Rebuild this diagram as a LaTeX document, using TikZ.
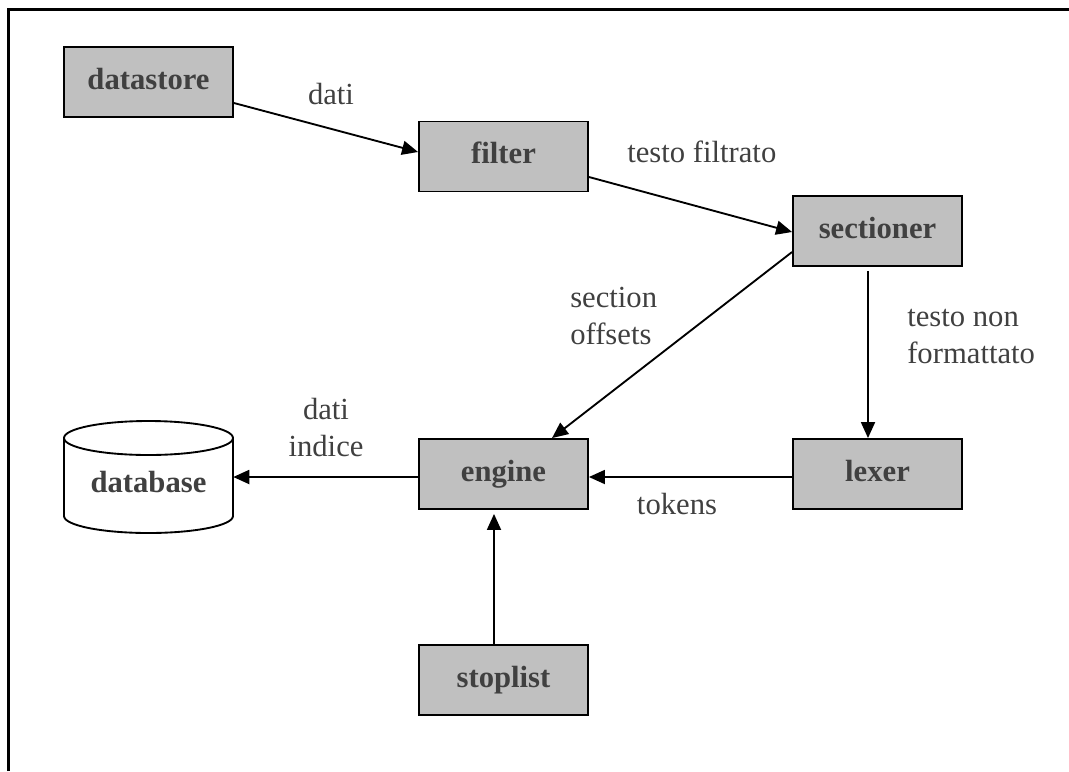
\documentclass[tikz,border=0pt]{standalone}
\usepackage{fontspec}
\setmainfont{Liberation Serif}
\usetikzlibrary{arrows.meta,calc}
\definecolor{boxgray}{HTML}{C0C0C0}
\definecolor{inkgray}{HTML}{404040}

\begin{document}
\begin{tikzpicture}[x=0.75pt,y=-0.75pt,
  every node/.style={font=\fontsize{23}{27.75}\selectfont, text=inkgray},
  stage/.style={draw=black, line width=1.4pt, fill=boxgray,
    font=\fontsize{23}{27.75}\selectfont\bfseries,
    minimum width=126.75pt, minimum height=52.5pt, inner sep=0pt,
    text height=16.8pt, text depth=6.2pt},
  flow/.style={draw=black, line width=1.4pt, -{Triangle[length=12pt,width=10.5pt]}},
  note/.style={inner sep=0pt}
]
\useasboundingbox (0,0) rectangle (1069,771);

% page frame (top and left rules)
\draw[line width=2.25pt] (8,771) -- (8,9) -- (1069,9);

% database cylinder
\draw[line width=1.4pt, fill=white]
  (64,438) -- (64,516) arc[start angle=180, end angle=0, x radius=84.5, y radius=17]
  -- (233,438) arc[start angle=0, end angle=-180, x radius=84.5, y radius=17] -- cycle;
\draw[line width=1.4pt] (64,438) arc[start angle=180, end angle=0, x radius=84.5, y radius=17];
\node[note, font=\fontsize{23}{27.75}\selectfont\bfseries, minimum width=126.75pt] (database) at (148.5,482) {database};

% processing stages
\node[stage] (datastore) at (148.5,82) {datastore};
\node[stage] (filter) at (503.5,156.5) {filter};
\node[stage] (sectioner) at (877.5,231) {sectioner};
\node[stage] (lexer) at (877.5,474) {lexer};
\node[stage] (engine) at (503.5,474) {engine};
\node[stage] (stoplist) at (503.5,680) {stoplist};

% data flow
\draw[flow] ($(datastore.east)+(0,21)$) -- ($(filter.west)+(0,-4.5)$);
\draw[flow] ($(filter.east)+(0,20.5)$) -- ($(sectioner.west)+(0,1)$);
\draw[flow] ($(sectioner.west)+(0,21)$) -- ($(engine.north)+(48.5,0)$);
\draw[flow] ($(sectioner.south)+(-9.5,4)$) -- ($(lexer.north)+(-9.5,0)$);
\draw[flow] ($(lexer.west)+(0,3)$) -- ($(engine.east)+(0,3)$);
\draw[flow] ($(engine.west)+(0,3)$) -- ($(database.east)+(0,-5)$);
\draw[flow] ($(stoplist.north)+(-9.5,0)$) -- ($(engine.south)+(-9.5,4)$);

% flow labels
\node[note, anchor=base] (lbldati) at (331,104) {dati};
\node[note, anchor=base west] (lblfiltrato) at (627,162) {testo filtrato};
\node[note, align=left, anchor=west] (lbloffsets) at (570,316) {section\\offsets};
\node[note, align=left, anchor=west] (lblnonfmt) at (907,337) {testo non\\formattato};
\node[note, align=center] (lblindice) at (326,428) {dati\\indice};
\node[note, anchor=base] (lbltokens) at (677,514) {tokens};
\end{tikzpicture}
\end{document}
